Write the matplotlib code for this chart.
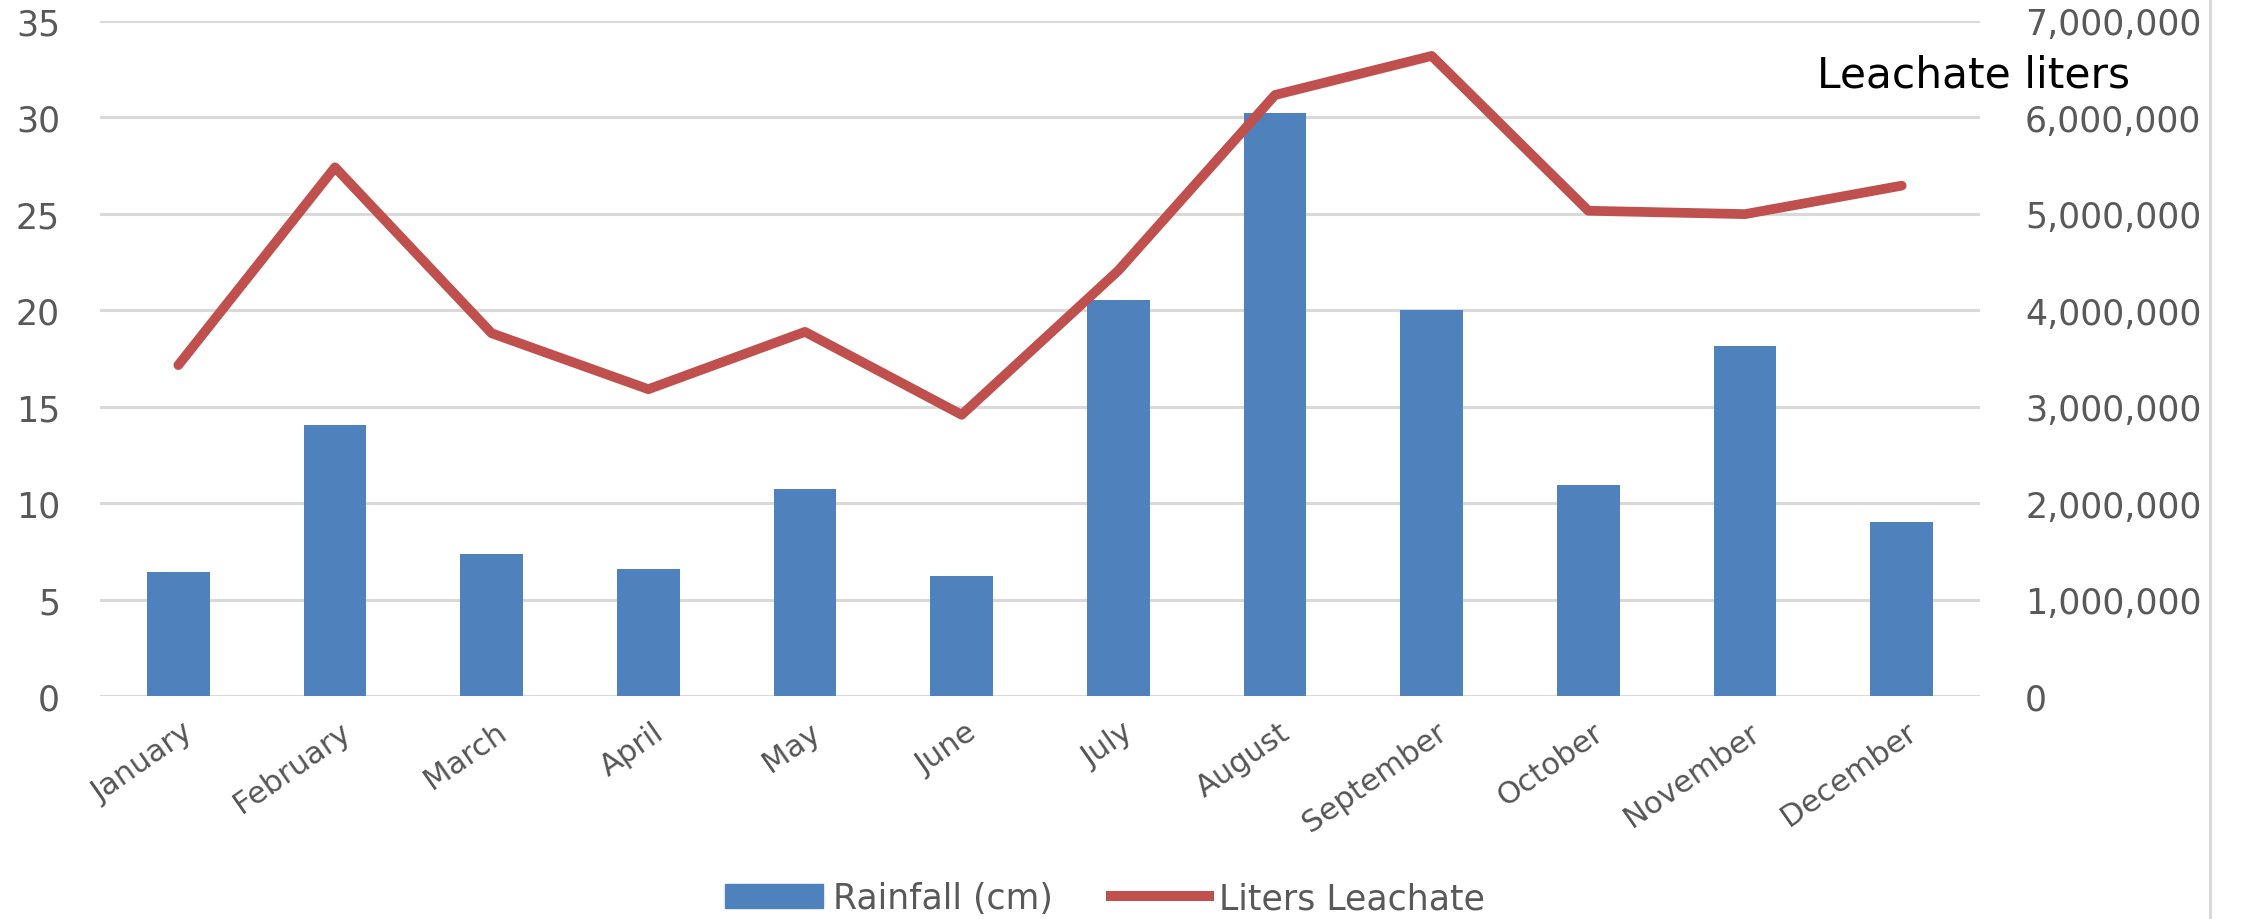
import matplotlib
matplotlib.use("Agg")
import matplotlib.pyplot as plt
import matplotlib.transforms as mtransforms
from matplotlib.ticker import FuncFormatter
from matplotlib.lines import Line2D

months = ["January", "February", "March", "April", "May", "June", "July",
          "August", "September", "October", "November", "December"]
rainfall_cm = [6.45, 14.05, 7.35, 6.6, 10.75, 6.2, 20.5, 30.2, 20.0, 10.95, 18.15, 9.0]
leachate_liters = [3430000, 5480000, 3760000, 3180000, 3775000, 2915000,
                   4410000, 6230000, 6635000, 5030000, 4995000, 5290000]
left_ticks = [0, 5, 10, 15, 20, 25, 30, 35]
right_ticks = [0, 1000000, 2000000, 3000000, 4000000, 5000000, 6000000, 7000000]

plt.rcParams['font.family'] = ['DejaVu Sans']

fig = plt.figure(figsize=(22.41, 9.2), dpi=100)
ax = fig.add_axes([0.04462, 0.24239, 0.83892, 0.73402])
ax2 = ax.twinx()

x = list(range(len(months)))
ax.bar(x, rainfall_cm, width=0.40, color="#4F81BD", zorder=2, label="Rainfall (cm)")
ax2.plot(x, leachate_liters, color="#C0504D", lw=7.0, solid_joinstyle="round",
         solid_capstyle="round", zorder=3, label="Liters Leachate")

ax.set_xlim(-0.5, 11.5)
ax.set_ylim(0, 35)
ax2.set_ylim(0, 7000000)
ax.set_yticks(left_ticks)
ax2.set_yticks(right_ticks)
ax2.yaxis.set_major_formatter(FuncFormatter(lambda v, p: f"{int(v):,}"))

ax.grid(axis="y", color="#D9D9D9", lw=2.2, zorder=0)
ax.set_axisbelow(True)
for a in (ax, ax2):
    for s in a.spines.values():
        s.set_visible(False)
    a.tick_params(length=0, colors="#595959", labelsize=25)
ax.tick_params(axis="y", pad=28.8)
ax2.tick_params(axis="y", pad=32.4)

ax.set_xticks(x)
ax.set_xticklabels(months, rotation=35, ha="right", va="top", rotation_mode="anchor",
                   fontsize=22, color="#555555")
ax.tick_params(axis="x", pad=15)
offset = mtransforms.ScaledTranslation(0.04, 0, fig.dpi_scale_trans)
for lab in ax.get_xticklabels():
    lab.set_transform(lab.get_transform() + offset)

ax2.set_zorder(ax.get_zorder() + 1)
ax2.patch.set_visible(False)

fig.text(0.8108, 0.90543, "Leachate liters", fontsize=30.5, color="black",
         ha="left", va="baseline")

handles = [plt.Rectangle((0, 0), 1, 1, color="#4F81BD"),
           Line2D([0], [0], color="#C0504D", lw=7.2)]
fig.legend(handles, ["Rainfall (cm)", "Liters Leachate"], loc="center",
           bbox_to_anchor=(0.4931, 0.0228), ncol=2, frameon=False, fontsize=25,
           labelcolor="#595959", handlelength=2.82, handletextpad=0.3,
           columnspacing=1.67, borderpad=0, borderaxespad=0)

fig.add_artist(Line2D([0.9862, 0.9862], [0, 1], transform=fig.transFigure,
                      color="#D9D9D9", lw=2.2))

fig.savefig("out.png", dpi=100)
